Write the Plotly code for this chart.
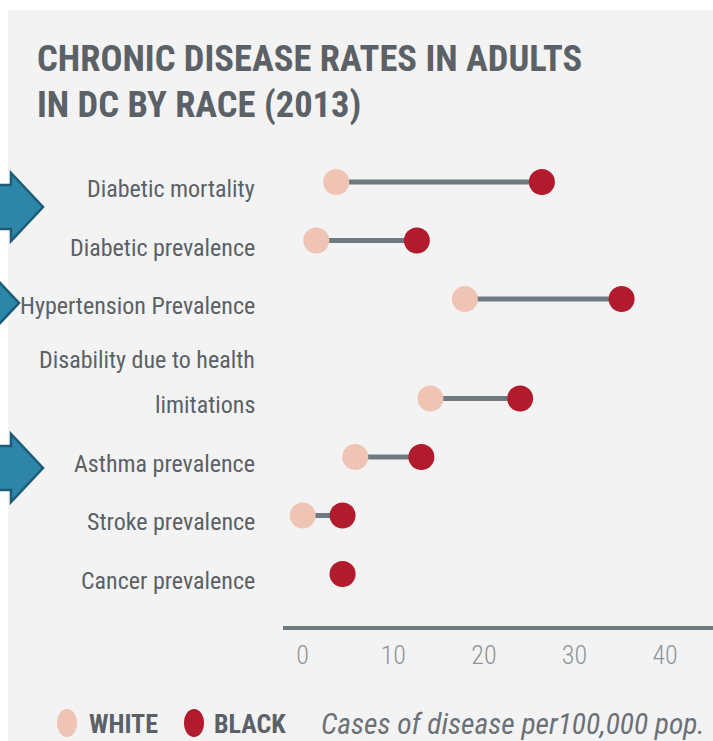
import plotly.graph_objects as go

# ---- data -------------------------------------------------------------
categories = [
    "Diabetic mortality",
    "Diabetic prevalence",
    "Hypertension Prevalence",
    "Disability due to health<br>limitations",
    "Asthma prevalence",
    "Stroke prevalence",
    "Cancer prevalence",
]
white_rates = [3.7, 1.5, 17.9, 14.1, 5.8, 0.0, 4.4]
black_rates = [26.4, 12.6, 35.2, 24.0, 13.1, 4.4, 4.4]
x_ticks = [0, 10, 20, 30, 40]
series_names = ["WHITE", "BLACK"]
unit_note = "Cases of disease per100,000 pop."
title_lines = ["CHRONIC DISEASE RATES IN ADULTS", "IN DC BY RACE (2013)"]

# ---- style ------------------------------------------------------------
W, H = 713, 741
ML, MR, MT, MB = 283, 0, 150, 115
BG = "#f3f3f3"
TEXT = "#5b6166"
TICK = "#8e949a"
LINE = "#6e7a80"
WHITE_C = "#efc4b5"
BLACK_C = "#b21b2d"
ARROW_FILL = "#2d86a8"
ARROW_EDGE = "#1d5c78"
FONT = "Roboto Condensed, Liberation Sans Narrow, DejaVu Sans Condensed, Arial Narrow, sans-serif"

PW = W - ML - MR
PH = H - MT - MB


def px_x(p):
    return (p - ML) / PW


def px_y(p):
    return 1 - (p - MT) / PH


# one unit per row, with extra room above rows whose label wraps
row_y = []
pos = 0.0
for i, c in enumerate(categories):
    if i > 0:
        pos += 1 + 0.7 * c.count("<br>")
    row_y.append(pos)

row_px = 58.5
y_top = -(182 - MT) / row_px
y_bot = row_y[-1] + (MT + PH - 574) / row_px

# x scale: 10 units = 90.6 px, zero at 302.7 px
x_unit = 9.06
x_zero = 302.7
x_lo = (ML - x_zero) / x_unit
x_hi = (W - MR - x_zero) / x_unit

fig = go.Figure()

# connectors
cx, cy = [], []
for w, b, y in zip(white_rates, black_rates, row_y):
    cx += [w, b, None]
    cy += [y, y, None]
fig.add_trace(go.Scatter(x=cx, y=cy, mode="lines",
                         line=dict(color=LINE, width=5),
                         hoverinfo="skip", showlegend=False))

fig.add_trace(go.Scatter(x=white_rates, y=row_y, mode="markers", name=series_names[0],
                         marker=dict(size=26, color=WHITE_C, line=dict(width=0)),
                         showlegend=False))
fig.add_trace(go.Scatter(x=black_rates, y=row_y, mode="markers", name=series_names[1],
                         marker=dict(size=26, color=BLACK_C, line=dict(width=0)),
                         showlegend=False))

shapes = [
    dict(type="rect", xref="paper", yref="paper", layer="below",
         x0=px_x(8), x1=px_x(W), y0=px_y(H), y1=px_y(10),
         fillcolor=BG, line=dict(width=0)),
]


def arrow(tip_x, tip_y, head_len=32, head_half=34, shaft_half=22, tail_x=-10):
    pts = [
        (tail_x, tip_y - shaft_half),
        (tip_x - head_len, tip_y - shaft_half),
        (tip_x - head_len, tip_y - head_half),
        (tip_x, tip_y),
        (tip_x - head_len, tip_y + head_half),
        (tip_x - head_len, tip_y + shaft_half),
        (tail_x, tip_y + shaft_half),
    ]
    d = "M " + " L ".join(f"{px_x(a):.5f},{px_y(b):.5f}" for a, b in pts) + " Z"
    return dict(type="path", xref="paper", yref="paper", path=d,
                fillcolor=ARROW_FILL, line=dict(color=ARROW_EDGE, width=2.5))


shapes += [arrow(43, 207), arrow(19, 303), arrow(43, 468)]

# legend dots
for cxp, col in [(67, WHITE_C), (194, BLACK_C)]:
    shapes.append(dict(type="circle", xref="paper", yref="paper",
                       x0=px_x(cxp - 10), x1=px_x(cxp + 10),
                       y0=px_y(723 + 14), y1=px_y(723 - 14),
                       fillcolor=col, line=dict(width=0)))

annotations = []
# title, one annotation per line
for ln, yc in zip(title_lines, [58, 105]):
    annotations.append(dict(
        text=f"<b>{ln}</b>", xref="paper", yref="paper", x=px_x(35), y=px_y(yc),
        xanchor="left", yanchor="middle", showarrow=False,
        font=dict(family=FONT, size=36.5, color=TEXT)))

# row labels
for lab, y in zip(categories, row_y):
    lines = lab.split("<br>")
    n = len(lines)
    for i, ln in enumerate(lines):
        annotations.append(dict(
            text=ln, xref="paper", yref="y", x=px_x(257), y=y,
            xanchor="right", yanchor="middle", showarrow=False,
            yshift=-7 + (n - 1 - i) * 45,
            font=dict(family=FONT, size=24, color=TEXT)))

# legend labels and unit note
annotations += [
    dict(text=f"<b>{series_names[0]}</b>", xref="paper", yref="paper",
         x=px_x(87), y=px_y(724), xanchor="left", yanchor="middle", showarrow=False,
         font=dict(family=FONT, size=26, color=TEXT)),
    dict(text=f"<b>{series_names[1]}</b>", xref="paper", yref="paper",
         x=px_x(212), y=px_y(724), xanchor="left", yanchor="middle", showarrow=False,
         font=dict(family=FONT, size=26, color=TEXT)),
    dict(text=f"<i>{unit_note}</i>", xref="paper", yref="paper",
         x=px_x(319), y=px_y(724), xanchor="left", yanchor="middle", showarrow=False,
         font=dict(family=FONT, size=29.5, color="#6c7176")),
]

fig.update_layout(
    width=W, height=H,
    margin=dict(l=ML, r=MR, t=MT, b=MB, pad=0),
    paper_bgcolor="white",
    plot_bgcolor="rgba(0,0,0,0)",
    shapes=shapes,
    annotations=annotations,
    xaxis=dict(range=[x_lo, x_hi], tickvals=x_ticks, showgrid=False, zeroline=False,
               showline=True, linecolor=LINE, linewidth=4, ticks="",
               ticklabelstandoff=3,
               tickfont=dict(family=FONT, size=26, color=TICK, weight=300)),
    yaxis=dict(range=[y_bot, y_top], showgrid=False, zeroline=False,
               showticklabels=False, showline=False),
    showlegend=False,
)

fig.write_html("out.html")
